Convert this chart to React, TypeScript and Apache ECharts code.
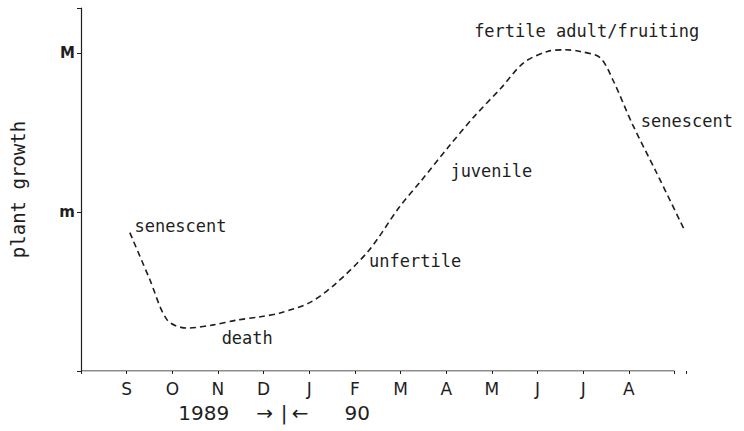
import React, { useEffect, useRef } from "react";
import * as echarts from "echarts";

const months = ["S", "O", "N", "D", "J", "F", "M", "A", "M", "J", "J", "A"];
const yTickLabels: Record<number, string> = { 1: "m", 2: "M" };
const xAxisStart = -1;
const xAxisEnd = 12;

const curveX = [0.07, 0.5, 0.89, 1.32, 1.9, 2.41, 2.9, 3.36, 4.01, 4.58, 5.31, 5.97, 6.46, 7.05, 7.61, 8.2, 8.7, 9.22, 9.6, 9.93, 10.37, 10.65, 11.08, 11.6, 12.21];
const curveY = [0.87, 0.58, 0.32, 0.27, 0.29, 0.32, 0.34, 0.365, 0.43, 0.55, 0.76, 1.03, 1.2, 1.41, 1.6, 1.78, 1.94, 2.01, 2.02, 2.01, 1.97, 1.83, 1.55, 1.25, 0.89];

const stageLabels = ["senescent", "death", "unfertile", "juvenile", "fertile adult/fruiting", "senescent"];
const stageX = [0.17, 2.08, 5.31, 7.09, 7.61, 11.26];
const stageY = [0.91, 0.21, 0.69, 1.26, 2.14, 1.57];

const yearLabels = ["1989", "→", "|", "←", "90"];
const yearX = [1.69, 3.02, 3.45, 3.8, 5.05];
const yearY = -0.265;

export default function App() {
  const ref = useRef<HTMLDivElement>(null);
  useEffect(() => {
    if (!ref.current) return;
    const chart = echarts.init(ref.current, null, { renderer: "svg" });
    const ink = "#1e1e1e";
    const option: any = {
      animation: false,
      backgroundColor: "#ffffff",
      grid: { left: 76, right: 58, top: 8, bottom: 60 },
      xAxis: {
        type: "value",
        min: -1,
        max: 12.25,
        interval: 1,
        splitLine: { show: false },
        axisLine: { show: false },
        axisTick: { show: true, length: 3, lineStyle: { color: ink } },
        axisLabel: {
          color: ink,
          fontFamily: "DejaVu Sans",
          fontSize: 17,
          margin: 9,
          formatter: (v: number) => (v >= 0 && v < months.length ? months[v] : ""),
        },
      },
      yAxis: {
        type: "value",
        min: 0,
        max: 2.283,
        interval: 1,
        name: "plant growth",
        nameLocation: "middle",
        nameGap: 54,
        nameRotate: 90,
        nameTextStyle: { color: ink, fontFamily: "DejaVu Sans Mono", fontSize: 19 },
        splitLine: { show: false },
        axisLine: { show: true, onZero: false, lineStyle: { color: ink, width: 1.2 } },
        axisTick: { show: true, length: 4, lineStyle: { color: ink } },
        axisLabel: {
          color: ink,
          fontFamily: "DejaVu Sans",
          fontSize: 15,
          fontWeight: "bold",
          margin: 6,
          formatter: (v: number) => yTickLabels[v] || "",
        },
      },
      series: [
        {
          type: "line",
          data: [[xAxisStart, 0], [xAxisEnd, 0]],
          showSymbol: false,
          symbol: "none",
          silent: true,
          lineStyle: { color: ink, width: 1.2 },
        },
        {
          type: "line",
          data: curveX.map((x, i) => [x, curveY[i]]),
          smooth: 0.3,
          showSymbol: false,
          symbol: "none",
          clip: false,
          lineStyle: { color: ink, width: 1.6, type: [6, 4] },
        },
      ],
    };
    chart.setOption(option);
    const graphics: any[] = [];
    stageLabels.forEach((t, i) => {
      const [px, py] = chart.convertToPixel({ gridIndex: 0 }, [stageX[i], stageY[i]]) as number[];
      graphics.push({
        type: "text",
        x: px,
        y: py,
        style: {
          text: t,
          fill: ink,
          font: "17px 'DejaVu Sans Mono'",
          align: "left",
          verticalAlign: "middle",
        },
      });
    });
    yearLabels.forEach((t, i) => {
      const [px, py] = chart.convertToPixel({ gridIndex: 0 }, [yearX[i], yearY]) as number[];
      graphics.push({
        type: "text",
        x: px,
        y: py,
        style: {
          text: t,
          fill: ink,
          font: "20px 'DejaVu Sans'",
          align: "center",
          verticalAlign: "middle",
        },
      });
    });
    chart.setOption({ graphic: graphics });
    return () => chart.dispose();
  }, []);
  return <div ref={ref} style={{ width: 744, height: 431, position: "absolute", left: 0, top: 0 }} />;
}
